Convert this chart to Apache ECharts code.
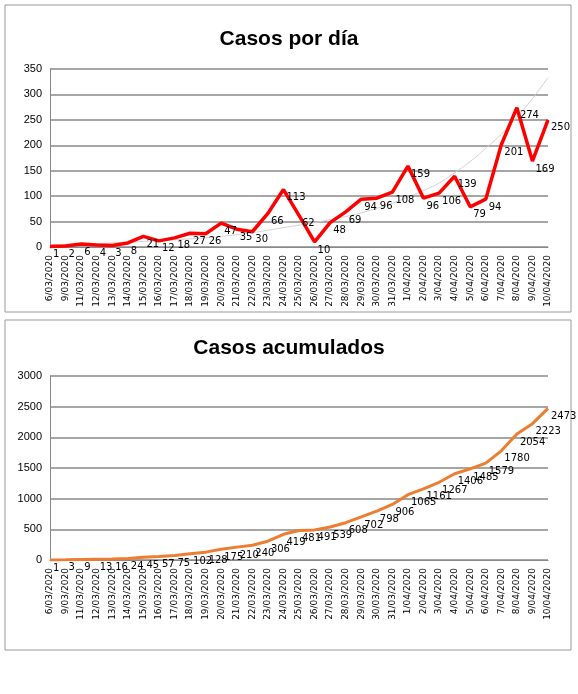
<!DOCTYPE html>
<html>
<head>
<meta charset="utf-8">
<script src="https://cdn.jsdelivr.net/npm/echarts@6/dist/echarts.min.js"></script>
<style>
  body { margin: 0; background: #fff; }
  #chart { width: 578px; height: 694px; }
</style>
</head>
<body>
<div id="chart"></div>
<script>
'use strict';

const dates = [
  '6/03/2020', '9/03/2020', '11/03/2020', '12/03/2020', '13/03/2020', '14/03/2020',
  '15/03/2020', '16/03/2020', '17/03/2020', '18/03/2020', '19/03/2020', '20/03/2020',
  '21/03/2020', '22/03/2020', '23/03/2020', '24/03/2020', '25/03/2020', '26/03/2020',
  '27/03/2020', '28/03/2020', '29/03/2020', '30/03/2020', '31/03/2020', '1/04/2020',
  '2/04/2020', '3/04/2020', '4/04/2020', '5/04/2020', '6/04/2020', '7/04/2020',
  '8/04/2020', '9/04/2020', '10/04/2020',
];
const daily = [1, 2, 6, 4, 3, 8, 21, 12, 18, 27, 26, 47, 35, 30, 66, 113, 62, 10, 48, 69,
  94, 96, 108, 159, 96, 106, 139, 79, 94, 201, 274, 169, 250];
const dailyTrend = [4, 5, 6, 7, 8, 9, 11, 12, 14, 16, 18, 21, 24, 28, 33, 38, 43, 48, 54, 60,
  67, 76, 86, 98, 111, 126, 146, 168, 194, 222, 255, 292, 333];
const cumulative = [1, 3, 9, 13, 16, 24, 45, 57, 75, 102, 128, 175, 210, 240, 306, 419, 481,
  491, 539, 608, 702, 798, 906, 1065, 1161, 1267, 1406, 1485, 1579, 1780, 2054, 2223, 2473];

const font = 'DejaVu Sans';

const xAxisFor = (gridIndex) => ({
  type: 'category', gridIndex, data: dates, boundaryGap: false,
  axisLine: { lineStyle: { color: '#888' } },
  axisTick: { show: false },
  axisLabel: { rotate: 90, fontSize: 9, color: '#000', fontFamily: font, interval: 0 },
});
const yAxisFor = (gridIndex, max, interval) => ({
  type: 'value', gridIndex, min: 0, max, interval,
  axisLine: { show: true, lineStyle: { color: '#888' } },
  axisLabel: { fontSize: 11, color: '#000', fontFamily: 'Liberation Sans', formatter: (v) => String(v) },
  splitLine: { lineStyle: { color: '#888', width: 1.5 } },
});
const labelStyle = { show: true, position: 'right', offset: [-2, 8], fontSize: 10, color: '#000', fontFamily: font };

const chart = echarts.init(document.getElementById('chart'));
chart.setOption({
  animation: false,
  title: [
    { text: 'Casos por día', left: 'center', top: 24, textStyle: { fontSize: 21, fontWeight: 'bold', fontFamily: 'Liberation Sans', color: '#000' } },
    { text: 'Casos acumulados', left: 'center', top: 333, textStyle: { fontSize: 21, fontWeight: 'bold', fontFamily: 'Liberation Sans', color: '#000' } },
  ],
  graphic: [
    { type: 'rect', shape: { x: 5, y: 5, width: 566, height: 307 }, style: { fill: 'none', stroke: '#999' } },
    { type: 'rect', shape: { x: 5, y: 320, width: 566, height: 330 }, style: { fill: 'none', stroke: '#999' } },
  ],
  grid: [
    { left: 50, right: 30, top: 69, height: 178 },
    { left: 50, right: 30, top: 376, height: 184 },
  ],
  xAxis: [xAxisFor(0), xAxisFor(1)],
  yAxis: [yAxisFor(0, 350, 50), yAxisFor(1, 3000, 500)],
  series: [
    {
      type: 'line', xAxisIndex: 0, yAxisIndex: 0, data: dailyTrend, smooth: true,
      symbol: 'none', silent: true, lineStyle: { color: '#d0d0d0', width: 1 },
    },
    {
      type: 'line', xAxisIndex: 0, yAxisIndex: 0, data: daily,
      symbol: 'circle', symbolSize: 0, showSymbol: true,
      lineStyle: { color: '#ff0000', width: 3.5 }, label: labelStyle,
    },
    {
      type: 'line', xAxisIndex: 1, yAxisIndex: 1, data: cumulative,
      symbol: 'circle', symbolSize: 0, showSymbol: true,
      lineStyle: { color: '#ed7d31', width: 3 }, label: labelStyle,
    },
  ],
});
</script>
</body>
</html>
